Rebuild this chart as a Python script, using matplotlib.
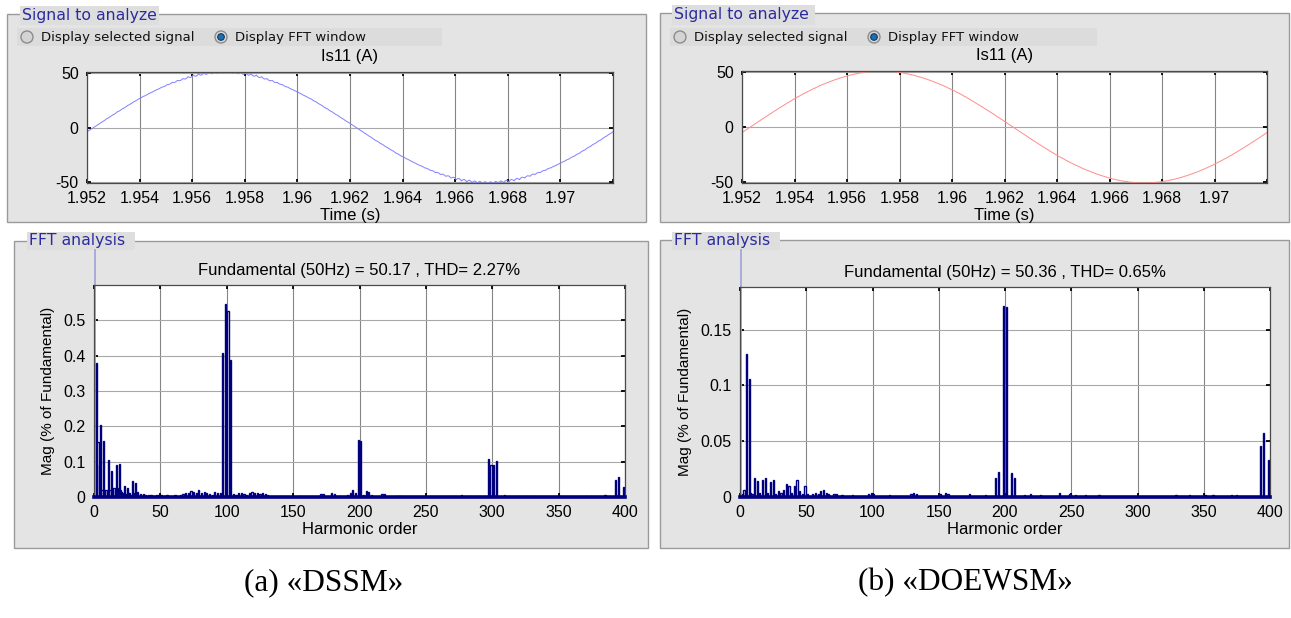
import numpy as np
import matplotlib
matplotlib.use("Agg")
import matplotlib.pyplot as plt
from matplotlib.patches import Rectangle, Circle

plt.rcParams['font.family'] = ['Liberation Sans', 'DejaVu Sans']
plt.rcParams['axes.unicode_minus'] = False

W, H = 1291, 618

# ---- data ----
time_ticks = [1.952, 1.954, 1.956, 1.958, 1.960, 1.962, 1.964, 1.966, 1.968, 1.970, 1.972]
time_tick_labels = ['1.952', '1.954', '1.956', '1.958', '1.96', '1.962', '1.964',
                    '1.966', '1.968', '1.97', '']
current_ticks = [-50, 0, 50]
harm_ticks = [0, 50, 100, 150, 200, 250, 300, 350, 400]

fund_dssm = 50.17
thd_dssm = 2.27
zero_cross_dssm = 1.95224

fund_doewsm = 50.36
thd_doewsm = 0.65
zero_cross_doewsm = 1.95232

fund_freq = 50
fund_order = 1

# harmonic magnitudes (% of fundamental), DSSM
dssm_orders = [2, 3, 4, 5, 6, 7, 8, 9, 10, 11, 12, 13, 14, 15, 16, 17, 18, 19, 20,
               21, 22, 23, 24, 25, 26, 27, 28, 29, 30, 31, 32, 33, 35, 37, 39, 41,
               43, 45, 47, 49, 51, 53, 55, 57, 61, 65, 67, 69, 71, 73, 75, 77, 79,
               81, 83, 85, 87, 89, 91, 93, 95, 97, 99, 101, 103, 105, 107, 109, 111,
               113, 115, 117, 119, 121, 123, 125, 127, 129, 131, 141, 155, 171, 173,
               179, 181, 185, 191, 193, 195, 197, 199, 201, 203, 205, 207, 209, 217,
               219, 229, 231, 271, 277, 283, 289, 297, 299, 301, 303, 309, 313, 319,
               325, 331, 351, 371, 375, 385, 393, 395, 399]
dssm_mags = [0.38, 0.155, 0.09, 0.205, 0.02, 0.158, 0.015, 0.02, 0.018, 0.105, 0.02,
             0.073, 0.015, 0.025, 0.02, 0.09, 0.025, 0.092, 0.02,
             0.015, 0.01, 0.03, 0.008, 0.025, 0.01, 0.012, 0.006, 0.045, 0.01, 0.04,
             0.008, 0.015, 0.008, 0.008, 0.006, 0.006,
             0.005, 0.004, 0.005, 0.006, 0.007, 0.004, 0.006, 0.004, 0.005, 0.006,
             0.008, 0.01, 0.012, 0.018, 0.015, 0.012, 0.02,
             0.01, 0.015, 0.012, 0.008, 0.006, 0.014, 0.012, 0.01, 0.407, 0.545,
             0.525, 0.388, 0.008, 0.006, 0.012, 0.012,
             0.008, 0.006, 0.01, 0.014, 0.012, 0.01, 0.008, 0.012, 0.008, 0.006,
             0.003, 0.003, 0.008, 0.008,
             0.01, 0.008, 0.004, 0.006, 0.012, 0.02, 0.01, 0.16, 0.158, 0.006,
             0.018, 0.015, 0.006, 0.008,
             0.008, 0.004, 0.004, 0.004, 0.005, 0.004, 0.004, 0.107, 0.09, 0.09,
             0.102, 0.005, 0.004, 0.004,
             0.004, 0.004, 0.004, 0.004, 0.004, 0.005, 0.048, 0.057, 0.027]

# harmonic magnitudes (% of fundamental), DOEWSM
doewsm_orders = [2, 3, 4, 5, 7, 8, 9, 11, 13, 15, 17, 19, 21, 23, 25, 27, 29, 31, 33,
                 35, 37, 39, 41, 43, 45, 47, 49, 51, 55, 57, 59, 61, 63, 65, 67, 71,
                 73, 77, 85, 97, 99, 101, 113, 129, 131, 133, 151, 155, 157, 173, 185,
                 193, 195, 199, 201, 205, 207, 215, 219, 227, 241, 249, 253, 261, 271,
                 329, 339, 351, 357, 371, 375, 393, 395, 399]
doewsm_mags = [0.003, 0.006, 0.004, 0.128, 0.106, 0.004, 0.003, 0.017, 0.014, 0.004,
               0.015, 0.017, 0.004, 0.013, 0.015, 0.003, 0.005, 0.004, 0.006,
               0.012, 0.01, 0.004, 0.01, 0.015, 0.005, 0.003, 0.01, 0.003, 0.003,
               0.004, 0.003, 0.005, 0.006, 0.004, 0.003, 0.003,
               0.003, 0.002, 0.002, 0.003, 0.004, 0.003, 0.002, 0.003, 0.004, 0.003,
               0.003, 0.004, 0.003, 0.003, 0.002,
               0.017, 0.022, 0.171, 0.170, 0.0215, 0.017, 0.002, 0.003, 0.002, 0.004,
               0.003, 0.002, 0.002, 0.002,
               0.002, 0.002, 0.002, 0.002, 0.002, 0.002, 0.046, 0.057, 0.033]

panel_titles = ['Signal to analyze', 'FFT analysis']
captions = ['(a) \u00abDSSM\u00bb', '(b) \u00abDOEWSM\u00bb']

NAVY = '#00007f'


def spectrum(orders, mags):
    h = np.arange(0, 401)
    m = np.zeros(len(h))
    m[np.array(orders)] = mags
    return h, m


def waveform(fund, t0, orders, mags):
    # time trace rebuilt from the fundamental and the harmonic spectrum above,
    # all components taken in phase at the positive peak of the fundamental
    t = np.linspace(1.952, 1.972, 8000)
    w = 2 * np.pi * fund_freq
    tpk = t0 + 0.25 / fund_freq
    i = fund * np.cos(w * (t - tpk))
    for h, m in zip(orders, mags):
        i = i + fund * m / 100 * np.cos(h * w * (t - tpk))
    return t, i


def px(x0, y0, x1, y1):
    return [x0 / W, 1 - y1 / H, (x1 - x0) / W, (y1 - y0) / H]


def style_axes(ax):
    ax.set_facecolor('white')
    for s in ax.spines.values():
        s.set_color('#4a4a4a')
        s.set_linewidth(0.9)
    ax.tick_params(direction='in', top=True, right=True, length=3, width=1.3,
                   labelsize=11.5, pad=6, colors='black')
    ax.grid(True, axis='x', color='#858585', lw=0.8)
    ax.grid(True, axis='y', color='#a8a8a8', lw=0.8)
    ax.set_axisbelow(True)


fig = plt.figure(figsize=(W / 100, H / 100), dpi=100)
fig.patch.set_facecolor('white')

bg = fig.add_axes([0, 0, 1, 1])
bg.set_xlim(0, W)
bg.set_ylim(H, 0)
bg.axis('off')

# GUI panels
panels = [(7, 14, 646, 222), (660, 13, 1289, 222), (14, 241, 648, 548), (660, 240, 1289, 548)]
for x0, y0, x1, y1 in panels:
    bg.add_patch(Rectangle((x0, y0), x1 - x0, y1 - y0, fc='#e4e4e4', ec='#9a9a9a', lw=1))

labels = [(20, 159, 6, 25, panel_titles[0]), (672, 815, 5, 25, panel_titles[0]),
          (27, 135, 232, 250, panel_titles[1]), (672, 780, 232, 250, panel_titles[1])]
for x0, x1, y0, y1, txt in labels:
    bg.add_patch(Rectangle((x0, y0), x1 - x0, y1 - y0, fc='#dedede', ec='none'))
    bg.text(x0 + 2, (y0 + y1) / 2, txt, family='DejaVu Sans', size=11.3,
            color='#2b2b9e', ha='left', va='center')

# radio buttons
for x0, x1 in [(17, 442), (670, 1097)]:
    bg.add_patch(Rectangle((x0, 28), x1 - x0, 18, fc='#dcdcdc', ec='none'))
    c1 = x0 + 10
    c2 = x0 + 204
    bg.add_patch(Circle((c1, 37), 6, fc='#d4d4d4', ec='#8c8c8c', lw=1))
    bg.add_patch(Circle((c2, 37), 6, fc='#d8d8d8', ec='#8c8c8c', lw=1))
    bg.add_patch(Circle((c2, 37), 3.3, fc='#1f6fb0', ec='#0b3a66', lw=0.8))
    bg.text(c1 + 14, 37.5, 'Display selected signal', family='DejaVu Sans', size=9.5,
            ha='left', va='center', color='#111111')
    bg.text(c2 + 14, 37.5, 'Display FFT window', family='DejaVu Sans', size=9.5,
            ha='left', va='center', color='#111111')

# captions
bg.text(324, 583, captions[0], family='Liberation Serif', size=22.5, ha='center', va='center')
bg.text(965, 583, captions[1], family='Liberation Serif', size=22.5, ha='center', va='center')

cases = [
    dict(fund=fund_dssm, thd=thd_dssm, t0=zero_cross_dssm, orders=dssm_orders,
         mags=dssm_mags, color='#8080ff',
         top=(87, 72, 613, 183), bot=(94, 285, 625, 497),
         yticks=[0, 0.1, 0.2, 0.3, 0.4, 0.5], ylabels=['0', '0.1', '0.2', '0.3', '0.4', '0.5']),
    dict(fund=fund_doewsm, thd=thd_doewsm, t0=zero_cross_doewsm, orders=doewsm_orders,
         mags=doewsm_mags, color='#ff8c8c',
         top=(742, 71, 1267, 183), bot=(740, 287, 1270, 497),
         yticks=[0, 0.05, 0.1, 0.15], ylabels=['0', '0.05', '0.1', '0.15']),
]

for c in cases:
    # signal window
    ax = fig.add_axes(px(*c['top']))
    style_axes(ax)
    t, i = waveform(c['fund'], c['t0'], c['orders'], c['mags'])
    ax.plot(t, i, color=c['color'], lw=0.7)
    ax.set_xlim(1.952, 1.972)
    ax.set_ylim(-50.5, 50.5)
    ax.set_xticks(time_ticks)
    ax.set_xticklabels(time_tick_labels)
    ax.set_yticks(current_ticks)
    ax.set_title('Is11 (A)', fontsize=12, pad=8)
    ax.set_xlabel('Time (s)', fontsize=12, labelpad=1)

    # spectrum
    ax2 = fig.add_axes(px(*c['bot']))
    style_axes(ax2)
    h, m = spectrum(c['orders'], c['mags'])
    ax2.bar(h, m, width=0.9, color='white', edgecolor=NAVY, linewidth=1.0, zorder=3)
    ax2.axhline(0, color=NAVY, lw=2.6, clip_on=False, zorder=4)
    top_px = c['bot'][1] - 250
    ax2.axvline(fund_order, ymin=0, ymax=1 + top_px / (c['bot'][3] - c['bot'][1]),
                color='#a6a6da', lw=1.3, clip_on=False, zorder=2)
    ax2.set_xlim(0, 400)
    ax2.set_ylim(0, 1.1 * max(c['mags']))
    ax2.set_xticks(harm_ticks)
    ax2.set_yticks(c['yticks'])
    ax2.set_yticklabels(c['ylabels'])
    ax2.set_title('Fundamental (50Hz) = %.2f , THD= %.2f%%' % (c['fund'], c['thd']),
                  fontsize=12, pad=7)
    ax2.set_xlabel('Harmonic order', fontsize=12, labelpad=1)
    ax2.set_ylabel('Mag (% of Fundamental)', fontsize=11, labelpad=6)

fig.savefig('out.png', dpi=100, facecolor='white')
